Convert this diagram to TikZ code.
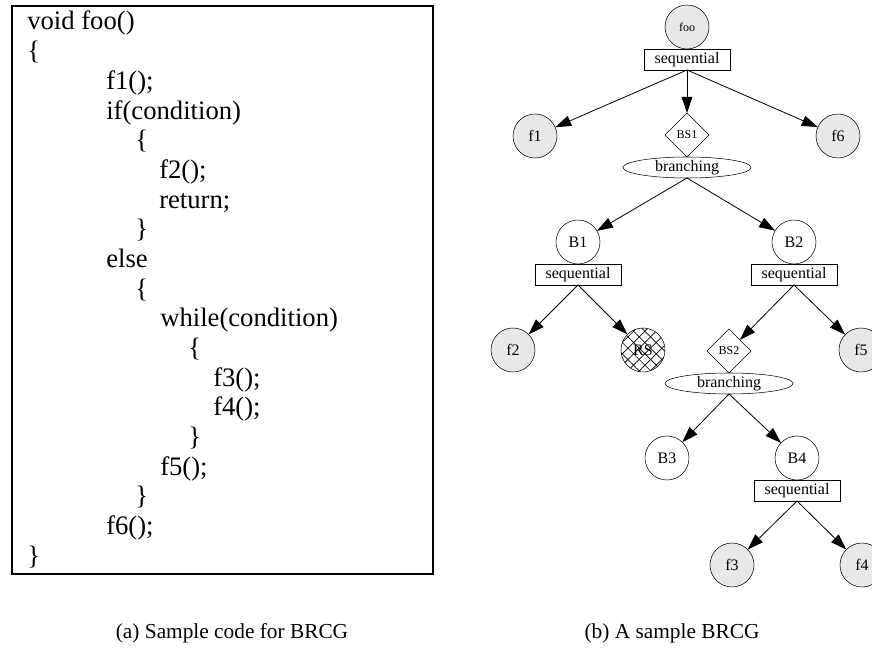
\documentclass[tikz,border=0pt]{standalone}
\usepackage{fontspec}
\setmainfont{Liberation Serif}
\usetikzlibrary{shapes.geometric, arrows.meta, positioning, patterns.meta}
\definecolor{callgray}{RGB}{232,232,232}

\begin{document}
\begin{tikzpicture}[
    x=0.75pt, y=-0.75pt,
    % Styles
    call/.style={
        circle, draw, fill=callgray, minimum size=33pt,
        inner sep=0pt, outer sep=0pt, font=\fontsize{12}{14}\selectfont
    },
    blk/.style={
        call, fill=white
    },
    seqbox/.style={
        rectangle, draw, fill=white, minimum width=64.5pt, minimum height=15.75pt,
        inner sep=0pt, outer sep=0pt, font=\fontsize{12}{14}\selectfont
    },
    branch/.style={
        ellipse, draw, fill=white, minimum width=96pt, minimum height=15.75pt,
        inner sep=0pt, outer sep=0pt, font=\fontsize{12}{14}\selectfont
    },
    bsel/.style={
        diamond, draw, fill=white, minimum size=33pt,
        inner sep=0pt, outer sep=0pt, font=\fontsize{9}{11}\selectfont
    },
    edge/.style={
        -{Triangle[length=12pt, width=8pt]}, line width=0.6pt
    },
    codeline/.style={
        anchor=base west, inner sep=0pt, font=\fontsize{20}{24}\selectfont
    },
    caption/.style={
        font=\fontsize{16}{19}\selectfont
    }
]
\useasboundingbox (0,0) rectangle (872,648);
\clip (0,0) rectangle (872,648);

% Left: sample code
\node[draw, line width=1.2pt, anchor=north west, minimum width=315.75pt,
      minimum height=426pt, inner sep=0pt] (codebox) at (11,5) {};
\foreach \ix/\iy/\txt [count=\n] in {
    27/0/{void foo()}, 27/1/{\{}, 106/2/{f1();}, 106/3/{if(condition)},
    135/4/{\{}, 159/5/{f2();}, 159/6/{return;}, 135/7/{\}},
    106/8/{else}, 135/9/{\{}, 160/10/{while(condition)}, 188/11/{\{},
    213/12/{f3();}, 213/13/{f4();}, 188/14/{\}}, 160/15/{f5();},
    135/16/{\}}, 106/17/{f6();}, 27/18/{\}}}
    \node[codeline] (code\n) at ({\ix}, {30+29.67*\iy}) {\txt};

% Right: the BRCG
\node[call] (foo) at (687,27) {\fontsize{9}{11}\selectfont foo};
\node[seqbox, below=0pt of foo] (seqfoo) {sequential};
\node[call] (f1) at (535,136) {f1};
\node[bsel] (bs1) at (687,135) {BS1};
\node[branch, below=0pt of bs1] (br1) {branching};
\node[call] (f6) at (838,136) {f6};
\draw[edge] (seqfoo.south) -- (f1);
\draw[edge] (seqfoo.south) -- (bs1);
\draw[edge] (seqfoo.south) -- (f6);

\node[blk] (b1) at (578,242) {B1};
\node[seqbox, below=0pt of b1] (seqb1) {sequential};
\node[blk] (b2) at (794,242) {B2};
\node[seqbox, below=0pt of b2] (seqb2) {sequential};
\draw[edge] (br1.south) -- (b1);
\draw[edge] (br1.south) -- (b2);

\node[call] (f2) at (513,350) {f2};
\node[blk, preaction={pattern={Lines[angle=45, distance=6pt, line width=0.5pt]}},
      pattern={Lines[angle=-45, distance=6pt, line width=0.5pt]}] (rs) at (643,350) {RS};
\node[bsel] (bs2) at (729,351) {BS2};
\node[branch, below=0pt of bs2] (br2) {branching};
\node[call] (f5) at (861,350) {f5};
\draw[edge] (seqb1.south) -- (f2);
\draw[edge] (seqb1.south) -- (rs);
\draw[edge] (seqb2.south) -- (bs2);
\draw[edge] (seqb2.south) -- (f5);

\node[blk] (b3) at (667,458) {B3};
\node[blk] (b4) at (797,458) {B4};
\node[seqbox, below=0pt of b4] (seqb4) {sequential};
\draw[edge] (br2.south) -- (b3);
\draw[edge] (br2.south) -- (b4);

\node[call] (f3) at (732,565) {f3};
\node[call] (f4) at (862,565) {f4};
\draw[edge] (seqb4.south) -- (f3);
\draw[edge] (seqb4.south) -- (f4);

% Captions
\node[caption] (capa) at (232,633) {(a) Sample code for BRCG};
\node[caption] (capb) at (672,633) {(b) A sample BRCG};

\end{tikzpicture}
\end{document}
